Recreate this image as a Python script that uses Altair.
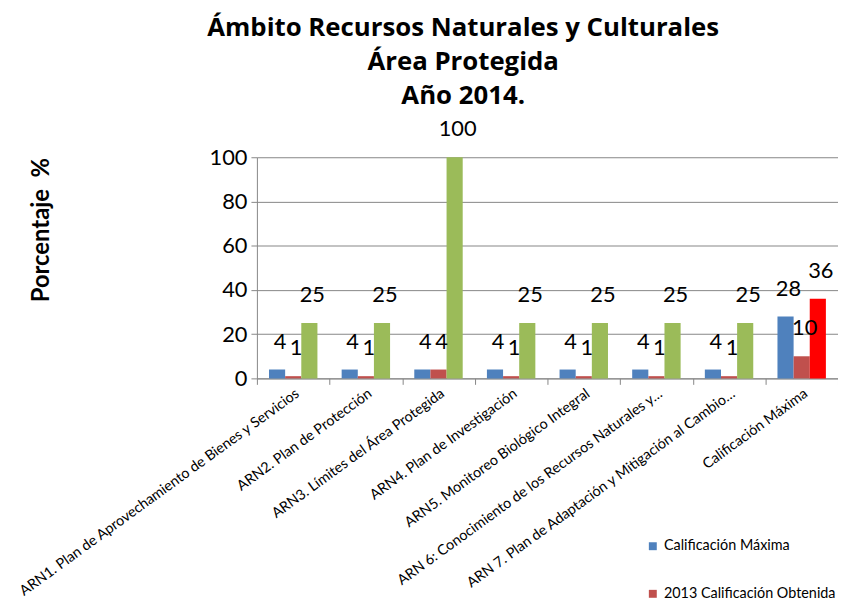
import altair as alt
import pandas as pd

categories = [
    "ARN1. Plan de Aprovechamiento de Bienes y Servicios",
    "ARN2. Plan de Protección",
    "ARN3. Límites del Área Protegida",
    "ARN4. Plan de Investigación",
    "ARN5. Monitoreo Biológico Integral",
    "ARN 6: Conocimiento de los Recursos Naturales y…",
    "ARN 7. Plan de Adaptación y Mitigación al Cambio…",
    "Calificación Máxima",
]
series = ["Calificación Máxima", "2013 Calificación Obtenida", "2014 Calificación Obtenida"]
maxima = [4, 4, 4, 4, 4, 4, 4, 28]
obt2013 = [1, 1, 4, 1, 1, 1, 1, 10]
obt2014 = [25, 25, 100, 25, 25, 25, 25, 36]
third_colors = ["#9BBB59"] * 7 + ["#FF0000"]
series_colors = ["#4F81BD", "#C0504D"]

rows = []
for i, c in enumerate(categories):
    rows.append({"cat": c, "serie": series[0], "valor": maxima[i], "fill": series_colors[0]})
    rows.append({"cat": c, "serie": series[1], "valor": obt2013[i], "fill": series_colors[1]})
    rows.append({"cat": c, "serie": series[2], "valor": obt2014[i], "fill": third_colors[i]})
df = pd.DataFrame(rows)

FONT = "Lato"
GRAY = "#868686"

base = alt.Chart(df).encode(
    x=alt.X(
        "cat:N",
        sort=categories,
        scale=alt.Scale(paddingInner=0, paddingOuter=0),
        axis=alt.Axis(
            title=None,
            labelAngle=-36,
            labelFont=FONT,
            labelFontSize=14.5,
            labelColor="#000000",
            labelLimit=500,
            tickBand="extent",
            tickSize=6,
            tickColor=GRAY,
            domainColor=GRAY,
            labelPadding=2,
        ),
    ),
    xOffset=alt.XOffset(
        "serie:N",
        sort=series,
        scale=alt.Scale(domain=series, paddingInner=0, paddingOuter=0.75),
    ),
    y=alt.Y(
        "valor:Q",
        scale=alt.Scale(domain=[0, 100]),
        axis=alt.Axis(
            values=[0, 20, 40, 60, 80, 100],
            grid=True,
            gridColor=GRAY,
            domainColor=GRAY,
            tickColor=GRAY,
            tickSize=6,
            labelFont=FONT,
            labelFontSize=22,
            labelColor="#000000",
            labelPadding=4,
            title="Porcentaje\u00a0\u00a0%",
            titleFont=FONT,
            titleFontSize=24,
            titleFontWeight="bold",
            titleColor="#000000",
            titleAngle=-90,
            titleAlign="center",
            titleBaseline="middle",
            titleX=-217,
            titleY=73,
        ),
    ),
)

bars_leg = base.transform_filter(alt.datum.serie != series[2]).mark_bar().encode(
    color=alt.Color(
        "serie:N",
        scale=alt.Scale(domain=series[:2], range=series_colors),
        legend=alt.Legend(
            title=None,
            orient="none",
            legendX=392,
            legendY=385,
            symbolType="square",
            symbolSize=64,
            symbolStrokeWidth=0,
            labelFont=FONT,
            labelFontSize=14.5,
            labelColor="#000000",
            rowPadding=33,
            padding=0,
            labelLimit=300,
        ),
    )
)

bars3 = base.transform_filter(alt.datum.serie == series[2]).mark_bar().encode(
    fill=alt.Fill("fill:N", scale=None)
)

labels = base.mark_text(
    font=FONT, fontSize=22, color="#000000", baseline="middle", dy=-28, dx=3
).encode(text=alt.Text("valor:Q"))

chart = (
    alt.layer(bars_leg, bars3, labels)
    .properties(
        width=586,
        height=223,
        autosize="none",
        padding={"left": 251, "top": 148, "right": 0, "bottom": 224},
        title=alt.TitleParams(
            text=["Ámbito Recursos Naturales y Culturales", "Área Protegida", "Año 2014."],
            font="Open Sans",
            fontSize=26,
            fontWeight="bold",
            color="#000000",
            anchor="middle",
            dx=-85,
            offset=10,
            lineHeight=34,
        ),
    )
    .configure_view(stroke=None)
)

chart.save("out.html", embed_options={"renderer": "svg", "actions": False})
